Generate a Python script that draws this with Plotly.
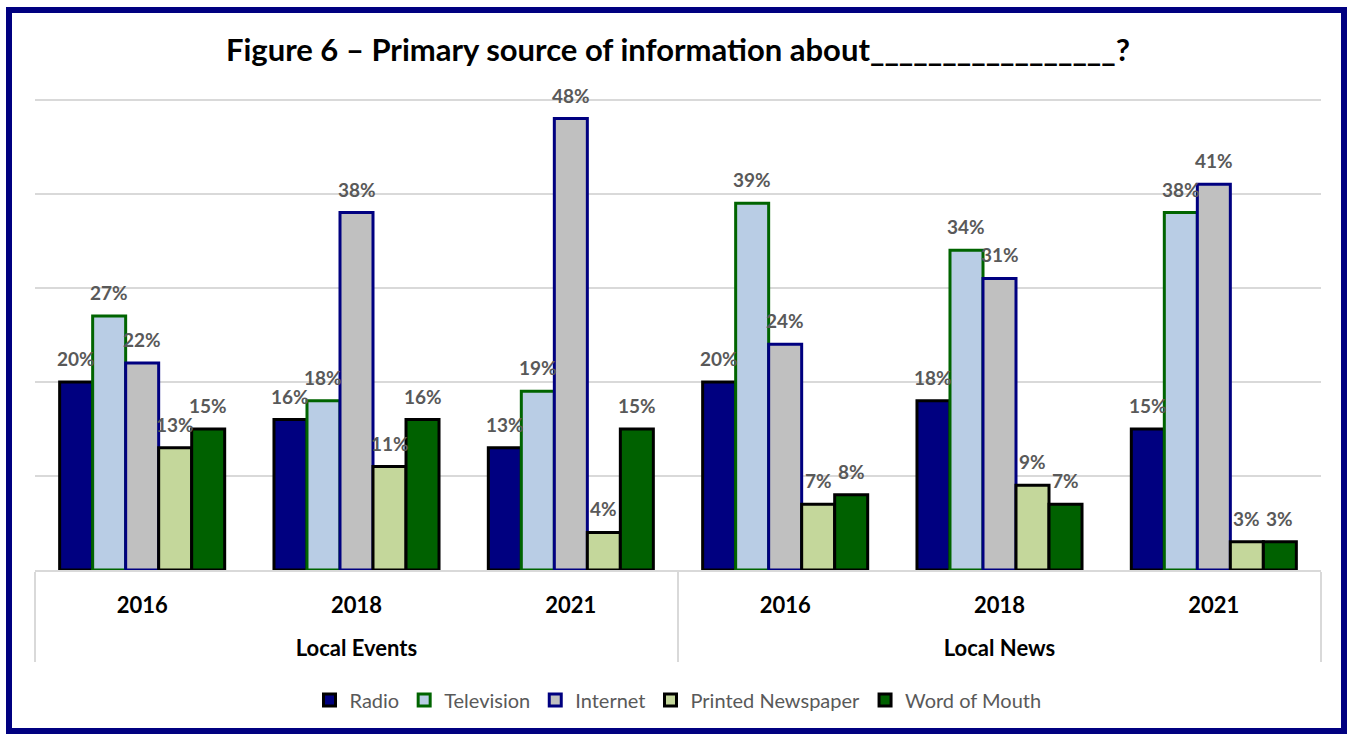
import plotly.graph_objects as go

# Survey groups and years (two-level category axis)
topics = ["Local Events"] * 3 + ["Local News"] * 3
years = ["2016", "2018", "2021"] * 2

# Share of respondents (%) naming each primary source
radio = [20, 16, 13, 20, 18, 15]
television = [27, 18, 19, 39, 34, 38]
internet = [22, 38, 48, 24, 31, 41]
printed_newspaper = [13, 11, 4, 7, 9, 3]
word_of_mouth = [15, 16, 15, 8, 7, 3]

series = [
    ("Radio", radio, "#000080", "#000000"),
    ("Television", television, "#B9CDE5", "#006400"),
    ("Internet", internet, "#C0C0C0", "#000080"),
    ("Printed Newspaper", printed_newspaper, "#C4D79B", "#000000"),
    ("Word of Mouth", word_of_mouth, "#006100", "#000000"),
]

W, H = 1349, 734
ML, MR, MT, MB = 35, 28, 95, 164
BARGAP = 0.23
YMAX = 50.5

fig = go.Figure()
for name, vals, fill, edge in series:
    fig.add_trace(go.Bar(
        name=name,
        x=[["<br>" + t for t in topics], years],
        y=vals,
        marker=dict(color=fill, line=dict(color=edge, width=3)),
    ))

# Data labels placed just above each bar, offset within its group
n = len(series)
bw = (1 - BARGAP) / n
annotations = []
for j, (name, vals, fill, edge) in enumerate(series):
    for i, v in enumerate(vals):
        annotations.append(dict(
            x=i + (j - (n - 1) / 2) * bw, y=v, xref="x", yref="y",
            text=f"{v}%", showarrow=False, yanchor="bottom", yshift=10,
            font=dict(family="Lato", size=19, color="#595959", weight="bold"),
        ))

pw = W - ML - MR
ph = H - MT - MB


def px_x(p):
    return (p - ML) / pw


def px_y(p):
    return (H - MB - p) / ph


fig.update_layout(
    width=W, height=H,
    margin=dict(l=ML, r=MR, t=MT, b=MB, pad=0),
    paper_bgcolor="white", plot_bgcolor="white",
    barmode="group", bargap=BARGAP, bargroupgap=0,
    title=dict(
        text="<b>Figure 6 \u2013 Primary source of information about_________________?</b>",
        x=0.5, xref="paper", xanchor="center",
        y=1 - 50 / H, yref="container", yanchor="middle",
        font=dict(family="Lato", size=31, color="#000000"),
    ),
    xaxis=dict(
        type="multicategory",
        showline=True, linecolor="#D9D9D9", linewidth=2,
        showgrid=False, ticks="", ticklabelstandoff=15,
        tickfont=dict(family="Lato", size=22, color="#000000", weight="bold"),
        showdividers=True, dividercolor="#D9D9D9", dividerwidth=2,
    ),
    yaxis=dict(
        range=[0, YMAX], tickvals=[10, 20, 30, 40, 50], showticklabels=False,
        showgrid=True, gridcolor="#D9D9D9", gridwidth=2,
        zeroline=False, showline=False,
    ),
    legend=dict(
        orientation="h", x=0.5, xanchor="center",
        y=px_y(700), yanchor="middle",
        font=dict(family="Lato", size=20, color="#595959"),
        itemwidth=30, tracegroupgap=0,
    ),
    annotations=annotations,
    shapes=[dict(
        type="rect", xref="paper", yref="paper",
        x0=px_x(9), x1=px_x(1344), y0=px_y(731), y1=px_y(10),
        line=dict(color="#000080", width=6), fillcolor="rgba(0,0,0,0)",
        layer="above",
    )],
)

fig.write_html("out.html")
